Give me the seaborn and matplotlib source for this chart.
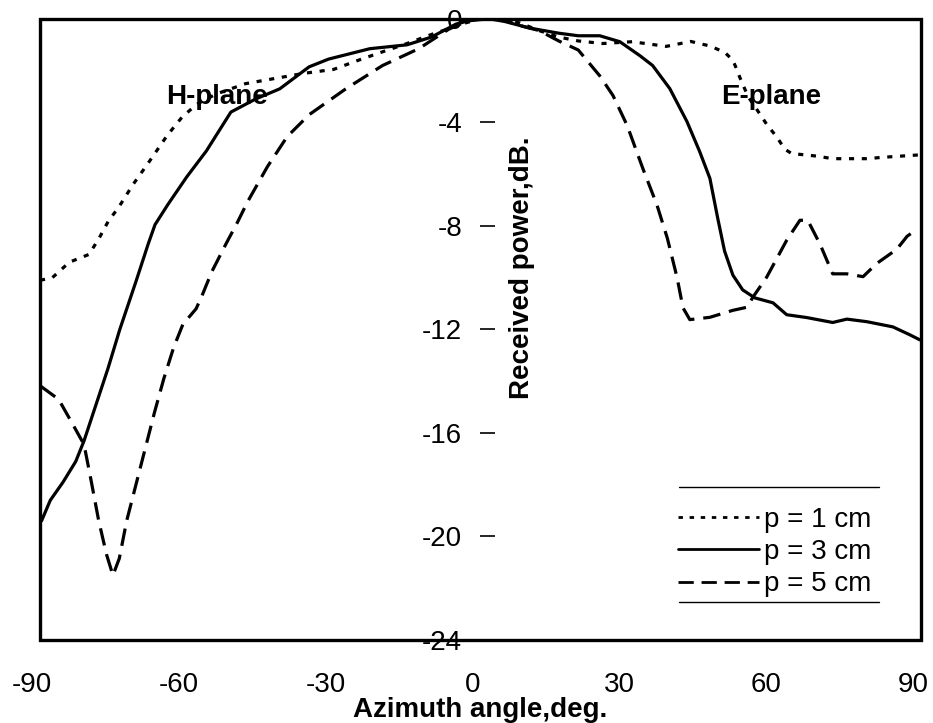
import numpy as np
import pandas as pd
import matplotlib
matplotlib.use("Agg")
import matplotlib.pyplot as plt
import matplotlib.transforms as mtransforms
from matplotlib.lines import Line2D
import seaborn as sns

# ---- data ----
x_p1 = [-90, -87.5, -84, -80, -78, -76, -74, -71, -68, -64, -61, -58, -54, -48, -42,
        -36, -30, -25, -20, -15, -10, -6, -3, 0, 4, 8, 12, 16, 20, 25, 31, 38, 43, 47, 50,
        51.6, 52.4, 53, 54.7, 56.5, 58.5, 60.6, 62.2, 63.6, 68.7, 72, 79, 82, 86, 90]
y_p1 = [-10.1, -10.0, -9.4, -9.1, -8.5, -7.8, -7.3, -6.4, -5.6, -4.5, -3.8, -3.3, -2.9, -2.5, -2.3,
        -2.1, -1.95, -1.6, -1.27, -0.95, -0.6, -0.35, -0.15, 0, 0, -0.15, -0.45, -0.7, -0.85, -0.95,
        -0.88, -1.06, -0.87, -1.05, -1.3, -1.6, -1.95, -2.25, -3.0, -3.5, -4.07, -4.57, -5.03, -5.2,
        -5.3, -5.4, -5.4, -5.35, -5.3, -5.25]

x_p3 = [-89.7, -87.9, -85.3, -82.7, -81, -78.9, -76.1, -73.7, -70.4, -67.9, -66.5, -63.9, -60, -56,
        -51, -46, -41, -35, -31, -22.6, -15, -10, -5, -2, 2, 5, 10, 16, 20, 24.4, 28.5, 32.6, 35.2,
        38.7, 42.2, 44.8, 46.9, 48.5, 49.9, 51.6, 53.6, 56.1, 59.8, 62.6, 66.7, 72, 74.9, 79, 84.3,
        87.7, 89.8]
y_p3 = [-19.4, -18.6, -17.9, -17.1, -16.3, -15.1, -13.5, -12.0, -10.15, -8.7, -7.95, -7.18, -6.1,
        -5.1, -3.6, -3.1, -2.7, -1.85, -1.55, -1.15, -1.0, -0.7, -0.2, -0.05, 0, -0.1, -0.35, -0.55,
        -0.65, -0.65, -0.88, -1.42, -1.8, -2.69, -3.96, -5.12, -6.16, -7.7, -8.97, -9.9, -10.47,
        -10.78, -10.97, -11.43, -11.54, -11.73, -11.6, -11.7, -11.9, -12.2, -12.4]

x_p5 = [-89.8, -86.2, -83.5, -81, -79.6, -78, -76.4, -75.1, -73.8, -72.3, -70.4, -68.5, -66.6,
        -64.7, -62.7, -60.8, -58.1, -56.8, -54.9, -52.1, -49.6, -47.6, -43.5, -39.5, -35, -27.5,
        -20, -12.6, -6.5, -3, 0, 4, 8, 12, 16, 20, 24.4, 27.1, 30, 33.2, 36.1, 38.2, 40.2, 41.4,
        42.8, 46.9, 51.6, 54.5, 55.7, 58.5, 62.6, 65.3, 66.9, 69.4, 72, 74.9, 78.2, 81, 85.1, 87.2,
        89.4]
y_p5 = [-14.2, -14.7, -15.6, -16.45, -17.8, -19.4, -20.7, -21.5, -20.85, -19.4, -18.0, -16.6, -15.2,
        -13.9, -12.7, -11.8, -11.2, -10.65, -9.77, -8.73, -7.84, -7.07, -5.7, -4.55, -3.7, -2.7,
        -1.8, -1.15, -0.4, -0.1, 0, 0, -0.25, -0.45, -0.85, -1.2, -2.2, -2.96, -4.12, -5.78, -7.2,
        -8.47, -10.0, -11.16, -11.62, -11.53, -11.26, -11.14, -10.75, -9.98, -8.55, -7.78, -7.78,
        -8.7, -9.85, -9.85, -9.96, -9.45, -8.9, -8.4, -8.1]

series_names = ["p = 1 cm", "p = 3 cm", "p = 5 cm"]
x_ticks = [-90, -60, -30, 0, 30, 60, 90]
y_ticks = [0, -4, -8, -12, -16, -20, -24]

df = pd.concat([
    pd.DataFrame({"angle": x_p1, "power": y_p1, "series": series_names[0]}),
    pd.DataFrame({"angle": x_p3, "power": y_p3, "series": series_names[1]}),
    pd.DataFrame({"angle": x_p5, "power": y_p5, "series": series_names[2]}),
], ignore_index=True)

# ---- style ----
sns.set_theme(style="white")
plt.rcParams["font.family"] = ["Liberation Sans", "DejaVu Sans"]
plt.rcParams["text.color"] = "black"
plt.rcParams["axes.labelcolor"] = "black"
plt.rcParams["xtick.color"] = "black"
plt.rcParams["ytick.color"] = "black"

fig = plt.figure(figsize=(9.33, 7.23), dpi=100)
ax = fig.add_axes([0.0429, 0.1148, 0.944, 0.859])

sns.lineplot(data=df, x="angle", y="power", style="series", hue="series",
             palette=["black"] * 3,
             dashes={series_names[0]: (1.6, 2.4), series_names[1]: "",
                     series_names[2]: (5.5, 2.8)},
             estimator=None, sort=False, linewidth=2.3, ax=ax, legend=True)

ax.set_xlim(-90, 90)
ax.set_ylim(-24, 0)
ax.set_xticks(x_ticks)
ax.set_xticklabels([str(v) for v in x_ticks])
ax.set_yticks(y_ticks)
ax.set_yticklabels([str(v) for v in y_ticks])

# y axis placed at x = 0, spine itself invisible
for s in ["top", "right", "bottom"]:
    ax.spines[s].set_visible(False)
ax.spines["left"].set_position(("data", 0))
ax.spines["left"].set_color("none")
ax.tick_params(axis="y", direction="in", length=11, width=1.2, color="black",
               pad=13, labelsize=20, left=True)
ax.tick_params(axis="x", length=0, pad=23, labelsize=20)

# shift x tick labels slightly left as in the reference
shift = mtransforms.ScaledTranslation(-8 / 100, 0, fig.dpi_scale_trans)
for lab in ax.get_xticklabels():
    lab.set_transform(lab.get_transform() + shift)

# frame
ax.add_patch(plt.Rectangle((0, 0), 1, 1, transform=ax.transAxes, fill=False,
                           lw=2.4, edgecolor="black", clip_on=False, zorder=5))

ax.set_xlabel("Azimuth angle,deg.", fontsize=20, fontweight="bold", labelpad=-1)
ax.set_ylabel("Received power,dB.", fontsize=20, fontweight="bold")
ax.yaxis.set_label_coords(0.562, 0.60)

ax.text(-53.8, -3.0, "H-plane", fontsize=20, fontweight="bold", ha="center", va="center")
ax.text(59.4, -3.0, "E-plane", fontsize=20, fontweight="bold", ha="center", va="center")

leg = ax.legend(loc="upper left", bbox_to_anchor=(0.712, 0.232), frameon=False,
                fontsize=20, handlelength=2.9, handletextpad=0.2, labelspacing=0.22,
                borderaxespad=0)
for line in leg.get_lines():
    line.set_linewidth(2.0)
ax.add_line(Line2D([0.726, 0.953], [0.246, 0.246], transform=ax.transAxes, color="black", lw=1))
ax.add_line(Line2D([0.726, 0.953], [0.061, 0.061], transform=ax.transAxes, color="black", lw=1))

fig.savefig("out.png", dpi=100)
